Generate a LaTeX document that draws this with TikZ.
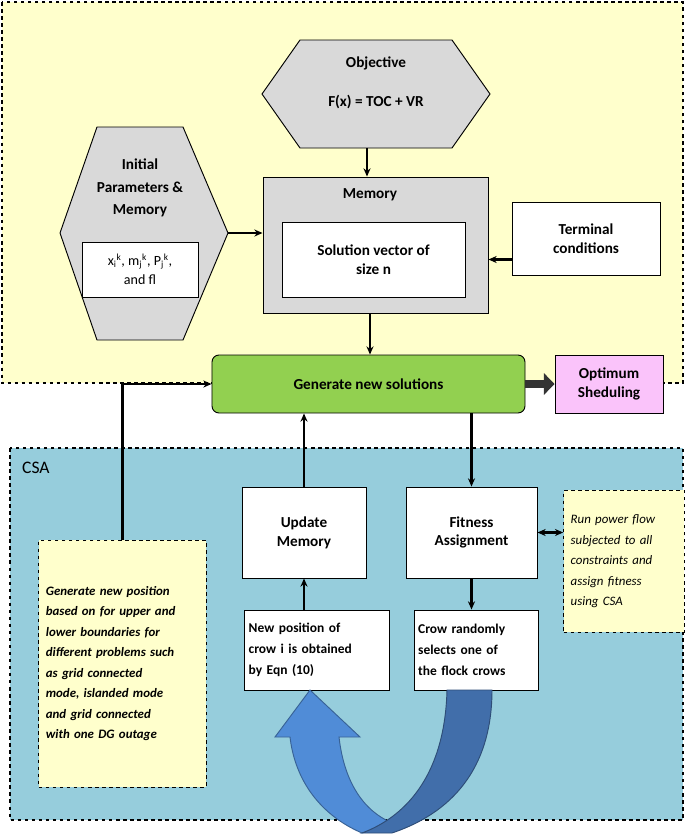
\documentclass[tikz,border=0pt]{standalone}
\usepackage{fontspec}
\setmainfont{Carlito}
\usetikzlibrary{arrows.meta,positioning,calc}
\definecolor{paleyellow}{RGB}{255,255,204}
\definecolor{csablue}{RGB}{150,205,220}
\definecolor{boxgray}{RGB}{217,217,217}
\definecolor{genGreen}{RGB}{146,208,80}
\definecolor{optPink}{RGB}{250,195,250}
\definecolor{lightArrow}{RGB}{80,140,215}
\definecolor{darkArrow}{RGB}{65,110,170}
\tikzset{
  box/.style={draw, thick, fill=white, align=center, font=\bfseries\fontsize{13}{16}\selectfont},
  note/.style={draw, thick, dashed, fill=paleyellow, align=left, font=\bfseries\itshape\fontsize{11}{17.5}\selectfont, inner sep=6pt},
  link/.style={line width=2pt, -{Stealth[length=7pt,width=6pt]}},
}
\begin{document}
\begin{tikzpicture}[x=0.03cm, y=-0.03cm]
    \useasboundingbox (0,0) rectangle (685,835);
    %% Regions
    \draw[very thick, dashed, fill=paleyellow] (2,2) rectangle (683,383);
    \draw[very thick, dashed, fill=csablue] (10,448) rectangle (683,820);
    \node[font=\fontsize{15}{17}\selectfont, anchor=west] (csa) at (18,468) {CSA};
    %% Objective
    \draw[thick, fill=boxgray] (300,40) -- (452,40) -- (490,94) -- (452,148) -- (300,148) -- (262,94) -- cycle;
    \coordinate (objS) at (367,148);
    \node[font=\bfseries\fontsize{13}{16}\selectfont] (objT) at (376,63) {Objective};
    \node[font=\bfseries\fontsize{13}{16}\selectfont] (objF) at (376,102) {F(x) = TOC + VR};
    %% Initial parameters
    \draw[thick, fill=boxgray] (97,127) -- (183,127) -- (228,233) -- (183,340) -- (97,340) -- (60,233) -- cycle;
    \coordinate (iniE) at (228,233);
    \node[font=\bfseries\fontsize{13}{19}\selectfont, align=center] (iniT) at (140,188) {Initial\\Parameters \&\\Memory};
    \node[box, font=\fontsize{12}{16}\selectfont, minimum width=3.48cm, minimum height=1.65cm] (iniB) at (140,269.5)
      {x\textsubscript{i}\textsuperscript{k}, m\textsubscript{j}\textsuperscript{k}, P\textsubscript{j}\textsuperscript{k},\\and fl};
    %% Memory
    \node[box, fill=boxgray, minimum width=6.75cm, minimum height=4.08cm] (mem) at (375.5,245) {};
    \node[font=\bfseries\fontsize{13}{16}\selectfont] (memT) at (370,195) {Memory};
    \node[box, minimum width=5.49cm, minimum height=2.25cm] (sol) at (373.5,259.5) {Solution vector of\\size n};
    \node[box, minimum width=4.44cm, minimum height=2.19cm] (term) at (586,238.5) {Terminal\\conditions};
    %% Main loop
    \node[box, fill=genGreen, rounded corners=6pt, minimum width=9.39cm, minimum height=1.74cm] (gen) at (368.5,384) {Generate new solutions};
    \node[box, fill=optPink, minimum width=3.24cm, minimum height=1.74cm] (opt) at (609,384) {Optimum\\Sheduling};
    \node[box, minimum width=3.72cm, minimum height=2.73cm] (upd) at (304,532.5) {Update\\Memory};
    \node[box, minimum width=3.93cm, minimum height=2.73cm] (fit) at (471.5,532.5) {Fitness\\Assignment};
    \node[box, font=\bfseries\fontsize{11.5}{18}\selectfont, align=left, text width=4.1cm, minimum height=2.4cm] (newp) at (317,650) {New position of\\crow i is obtained\\by Eqn (10)};
    \node[box, font=\bfseries\fontsize{11.5}{18}\selectfont, align=left, text width=3.5cm, minimum height=2.4cm] (crow) at (476.5,650) {Crow randomly\\selects one of\\the flock crows};
    %% Notes
    \node[note, text width=4.6cm, minimum height=7.41cm] (genNote) at (122.5,663.5)
      {Generate new position\\based on for upper and\\lower boundaries for\\different problems such\\as grid connected\\mode, islanded mode\\and grid connected\\with one DG outage};
    \node[note, font=\itshape\fontsize{11}{17.5}\selectfont, text width=3.2cm, minimum height=4.26cm, anchor=north] (runNote) at (624,490)
      {Run power flow\\subjected to all\\constraints and\\assign fitness\\using CSA};
    %% Connectors
    \draw[link] (objS) -- (objS |- mem.north);
    \draw[link] (iniE) -- (iniE -| mem.west);
    \draw[link] (term.west |- sol) -- (sol -| mem.east);
    \draw[link] (mem.south -| 370,0) -- (gen.north -| 370,0);
    \draw[line width=6pt, gray!40!black, -{Triangle[length=9pt,width=18pt]}] (gen.east) -- (opt.west);
    \draw[link] (upd.north) -- (upd.north |- gen.south);
    \draw[link] (gen.south -| fit) -- (fit.north);
    \draw[link] (newp.north -| upd) -- (upd.south);
    \draw[link] (fit.south) -- (fit.south |- crow.north);
    \draw[link] (genNote.north) -- (genNote.north |- gen) -- (gen.west);
    \draw[line width=2pt, {Stealth[length=7pt,width=6pt]}-{Stealth[length=7pt,width=6pt]}] (fit.east) -- (runNote.west |- fit);
    %% Curved arrows
    \draw[thick, fill=lightArrow, draw=lightArrow!70!black] (310,690) -- (360,737) -- (339,737)
      .. controls (345,790) and (370,815) .. (395,824) -- (362,833)
      .. controls (320,815) and (295,780) .. (290,737) -- (275,737) -- cycle;
    \draw[thick, fill=darkArrow, draw=darkArrow!70!black] (447,690)
      .. controls (445,770) and (410,815) .. (362,833) -- (392,833)
      .. controls (460,810) and (492,760) .. (492,690) -- cycle;
\end{tikzpicture}
\end{document}
